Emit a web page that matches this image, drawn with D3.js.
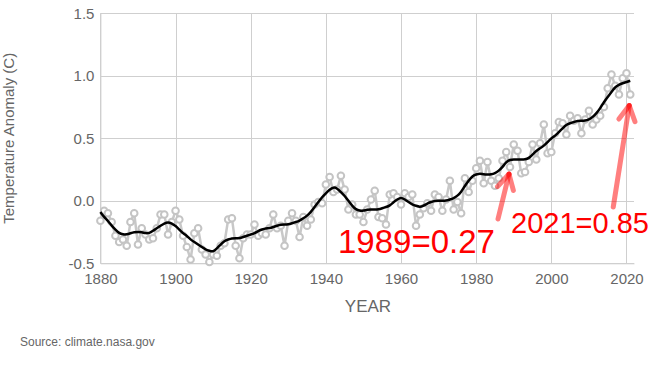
<!DOCTYPE html>
<html>
<head>
<meta charset="utf-8">
<script src="https://cdn.jsdelivr.net/npm/d3@7"></script>
<style>
  html, body { margin: 0; padding: 0; background: #fff; }
  svg { display: block; font-family: "Liberation Sans", Arial, sans-serif; }
</style>
</head>
<body>
<svg id="chart" width="652" height="365"></svg>
<script>
// ---- Data ----
const years = d3.range(1880, 2022);
const annualAnomaly = [
  -0.16, -0.08, -0.10, -0.17, -0.28, -0.33, -0.31, -0.36, -0.17, -0.10,
  -0.35, -0.22, -0.27, -0.31, -0.30, -0.22, -0.11, -0.11, -0.27, -0.17,
  -0.08, -0.15, -0.28, -0.37, -0.47, -0.26, -0.22, -0.39, -0.43, -0.49,
  -0.43, -0.44, -0.36, -0.34, -0.15, -0.14, -0.36, -0.46, -0.30, -0.27,
  -0.27, -0.19, -0.28, -0.26, -0.27, -0.22, -0.11, -0.22, -0.20, -0.36,
  -0.16, -0.10, -0.16, -0.29, -0.13, -0.20, -0.15, -0.03, -0.01, -0.02,
   0.13,  0.19,  0.07,  0.09,  0.20,  0.09, -0.07, -0.03, -0.11, -0.11,
  -0.17, -0.07,  0.01,  0.08, -0.13, -0.14, -0.19,  0.05,  0.06,  0.03,
  -0.03,  0.06,  0.03,  0.05, -0.20, -0.11, -0.06, -0.02, -0.08,  0.05,
   0.03, -0.08,  0.01,  0.16, -0.07, -0.01, -0.10,  0.18,  0.07,  0.16,
   0.26,  0.32,  0.14,  0.31,  0.16,  0.12,  0.18,  0.32,  0.39,  0.27,
   0.45,  0.40,  0.22,  0.23,  0.31,  0.45,  0.33,  0.46,  0.61,  0.38,
   0.39,  0.54,  0.63,  0.62,  0.53,  0.68,  0.64,  0.66,  0.54,  0.65,
   0.72,  0.61,  0.65,  0.68,  0.75,  0.90,  1.01,  0.92,  0.85,  0.98,
   1.02,  0.85
];
const smoothed = [
  -0.09, -0.13, -0.16, -0.20, -0.23, -0.26, -0.27, -0.27, -0.26, -0.25,
  -0.25, -0.25, -0.26, -0.26, -0.24, -0.22, -0.20, -0.18, -0.17, -0.18,
  -0.20, -0.23, -0.26, -0.28, -0.31, -0.33, -0.35, -0.37, -0.39, -0.40,
  -0.41, -0.38, -0.35, -0.32, -0.31, -0.30, -0.30, -0.30, -0.29, -0.28,
  -0.27, -0.26, -0.24, -0.23, -0.22, -0.22, -0.21, -0.20, -0.19, -0.19,
  -0.19, -0.18, -0.17, -0.16, -0.14, -0.12, -0.09, -0.05, -0.01,  0.03,
   0.06,  0.09,  0.11,  0.10,  0.07,  0.04,  0.00, -0.04, -0.07, -0.08,
  -0.08, -0.07, -0.07, -0.07, -0.07, -0.06, -0.05, -0.04, -0.01,  0.01,
   0.03,  0.01, -0.01, -0.03, -0.04, -0.05, -0.04, -0.02, -0.01,  0.00,
   0.00,  0.00,  0.00,  0.01,  0.02,  0.04,  0.07,  0.12,  0.16,  0.20,
   0.21,  0.22,  0.21,  0.21,  0.21,  0.22,  0.24,  0.27,  0.31,  0.33,
   0.33,  0.33,  0.33,  0.33,  0.34,  0.37,  0.40,  0.42,  0.44,  0.47,
   0.50,  0.52,  0.55,  0.58,  0.61,  0.62,  0.63,  0.64,  0.64,  0.64,
   0.65,  0.67,  0.70,  0.74,  0.79,  0.83,  0.87,  0.91,  0.93,  0.94,
   0.95,  0.96
];
const xTicks = [1880, 1900, 1920, 1940, 1960, 1980, 2000, 2020];
const yTicks = [-0.5, 0.0, 0.5, 1.0, 1.5];
const annotations = [
  { year: 1989, value: 0.27, label: "1989=0.27" },
  { year: 2021, value: 0.85, label: "2021=0.85" }
];

// ---- Layout ----
const svg = d3.select("#chart");
const x = d3.scaleLinear().domain([1880, 2022]).range([100.4, 634]);
const y = d3.scaleLinear().domain([-0.5, 1.5]).range([263.3, 13.3]);
const gridColor = "#cfcfcf";
const textColor = "#666";

// Grid
const grid = svg.append("g");
grid.selectAll("line.h").data(yTicks).join("line")
  .attr("x1", x(1880)).attr("x2", x(2022))
  .attr("y1", d => Math.round(y(d)) + 0.5).attr("y2", d => Math.round(y(d)) + 0.5)
  .attr("stroke", gridColor).attr("stroke-width", 1);
grid.selectAll("line.v").data(xTicks).join("line")
  .attr("x1", d => Math.round(x(d)) + 0.5).attr("x2", d => Math.round(x(d)) + 0.5)
  .attr("y1", y(1.5)).attr("y2", y(-0.5))
  .attr("stroke", gridColor).attr("stroke-width", 1);

// Axes (D3 axes, styled)
const xAxis = svg.append("g").attr("transform", `translate(0,${y(-0.5)})`)
  .call(d3.axisBottom(x).tickValues(xTicks).tickFormat(d3.format("d")).tickSize(0).tickPadding(10));
const yAxis = svg.append("g").attr("transform", `translate(${x(1880)},0)`)
  .call(d3.axisLeft(y).tickValues(yTicks).tickFormat(d3.format(".1f")).tickSize(0).tickPadding(6));
[xAxis, yAxis].forEach(g => {
  g.select(".domain").attr("stroke", gridColor);
  g.selectAll("text").attr("fill", textColor).attr("font-size", 15)
    .attr("font-family", "'Liberation Sans', Arial, sans-serif");
});
yAxis.selectAll("text").text(d => d3.format(".1f")(d).replace("−", "-"));

// Axis titles
svg.append("text").attr("x", 368).attr("y", 312).attr("text-anchor", "middle")
  .attr("fill", textColor).attr("font-size", 17).text("YEAR");
svg.append("text")
  .attr("transform", `translate(14,${(y(1.5) + y(-0.5)) / 2}) rotate(-90)`)
  .attr("text-anchor", "middle").attr("fill", textColor).attr("font-size", 15)
  .text("Temperature Anomaly (C)");
svg.append("text").attr("x", 20).attr("y", 346).attr("fill", textColor)
  .attr("font-size", 12).text("Source: climate.nasa.gov");

// Annual series
const pts = years.map((yr, i) => ({ yr, v: annualAnomaly[i] }));
svg.append("path").datum(pts)
  .attr("d", d3.line().x(d => x(d.yr)).y(d => y(d.v)))
  .attr("fill", "none").attr("stroke", "#c8c8c8").attr("stroke-width", 2.5);
svg.append("g").selectAll("circle").data(pts).join("circle")
  .attr("cx", d => x(d.yr)).attr("cy", d => y(d.v)).attr("r", 3.3)
  .attr("fill", "#fff").attr("stroke", "#c4c4c4").attr("stroke-width", 2);

// Smoothed line
const sm = years.map((yr, i) => ({ yr, v: smoothed[i] }));
svg.append("path").datum(sm)
  .attr("d", d3.line().curve(d3.curveBasis).x(d => x(d.yr)).y(d => y(d.v)))
  .attr("fill", "none").attr("stroke", "#000").attr("stroke-width", 2.5);

// Annotations: arrows + labels
const arrowColor = "rgba(255,0,0,0.5)";
function arrow(x0, y0, x1, y1) {
  const g = svg.append("g");
  const ang = Math.atan2(y1 - y0, x1 - x0);
  const hl = 17, ha = 0.5;
  g.append("line").attr("x1", x0).attr("y1", y0).attr("x2", x1).attr("y2", y1)
    .attr("stroke", arrowColor).attr("stroke-width", 5).attr("stroke-linecap", "round");
  [-ha, ha].forEach(da => {
    g.append("line").attr("x1", x1).attr("y1", y1)
      .attr("x2", x1 - hl * Math.cos(ang + da)).attr("y2", y1 - hl * Math.sin(ang + da))
      .attr("stroke", arrowColor).attr("stroke-width", 5).attr("stroke-linecap", "round");
  });
}
// arrow tips point just below the annotated points
const a1 = annotations[0], a2 = annotations[1];
arrow(x(a1.year) - 12, 219, x(a1.year) - 1, y(a1.value) + 7);
arrow(x(a2.year) - 17, 207, x(a2.year) - 1, y(a2.value) + 11);

svg.append("text").attr("x", 338).attr("y", 253).attr("fill", "#ff0000")
  .attr("font-size", 33).text(a1.label);
svg.append("text").attr("x", 511).attr("y", 233).attr("fill", "#ff0000")
  .attr("font-size", 29).text(a2.label);
</script>
</body>
</html>
